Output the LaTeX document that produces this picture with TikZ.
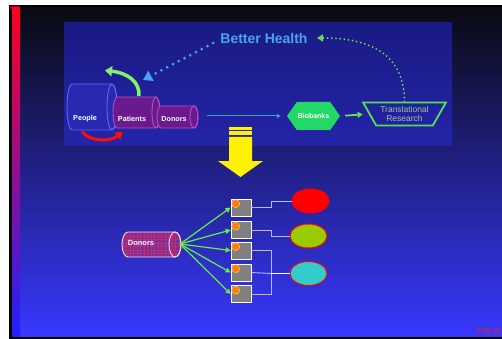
\documentclass[tikz,border=0pt]{standalone}
\usepackage{fontspec}
\setmainfont{Liberation Sans}
\newfontfamily\serifr{Liberation Serif}
\usetikzlibrary{shapes.geometric,shapes.symbols,arrows.meta,calc}
\definecolor{bgtop}{HTML}{0A0A12}
\definecolor{bgmid}{HTML}{2222B4}
\definecolor{bgbot}{HTML}{3838FF}
\definecolor{insettop}{HTML}{1A1A84}
\definecolor{insetbot}{HTML}{2424A8}
\definecolor{barred}{HTML}{FF0020}
\definecolor{barmid}{HTML}{C000A0}
\definecolor{barblue}{HTML}{2020FF}
\definecolor{skyblue}{HTML}{45A5EE}
\definecolor{dotgreen}{HTML}{66DD55}
\definecolor{hexgreen}{HTML}{22D866}
\definecolor{trapgreen}{HTML}{55E055}
\definecolor{traptext}{HTML}{A0C4A0}
\definecolor{tealline}{HTML}{30A8B0}
\definecolor{peoplefill}{HTML}{2828B0}
\definecolor{peopleline}{HTML}{6464FF}
\definecolor{purplefill}{HTML}{6A1A8C}
\definecolor{purpleline}{HTML}{B050C8}
\definecolor{donorfill}{HTML}{6434B4}
\definecolor{gridred}{HTML}{D02858}
\definecolor{boxgray}{HTML}{808080}
\definecolor{lavline}{HTML}{B8B8FF}
\definecolor{olive}{HTML}{99CC00}
\definecolor{cyanfill}{HTML}{33CCCC}
\definecolor{lightgreen}{HTML}{66EE44}
\definecolor{ttrred}{HTML}{E02020}
\newcommand\hcyl[7]{% L R T B rx bodystyle endstyle
  \pgfmathsetmacro\cyy{(#3+#4)/2}\pgfmathsetmacro\ryy{(#4-#3)/2}
  \path[#6] (#2,#3) -- (#1,#3) arc[start angle=270,end angle=90,x radius=#5,y radius=\ryy]
     -- (#2,#4) arc[start angle=90,end angle=-90,x radius=#5,y radius=\ryy] -- cycle;
  \draw[#7] (#2,\cyy) ellipse[x radius=#5,y radius=\ryy];
}
\begin{document}
\begin{tikzpicture}[x=1pt,y=-1pt,
  lbl/.style={text=white,font=\bfseries\fontsize{7.2}{8}\selectfont,inner sep=0},
  bluedot/.style={skyblue,line width=3pt,line cap=round,dash pattern=on 0pt off 6.5pt,
     -{Triangle[length=9pt,width=11pt]}},
  greendot/.style={dotgreen,line width=2pt,line cap=round,dash pattern=on 0pt off 4.2pt,
     -{Triangle[length=6pt,width=7pt]}},
  boxnode/.style={rectangle,minimum width=20pt,minimum height=17pt,fill=boxgray,draw=white,line width=0.7pt,inner sep=0},
  dotnode/.style={circle,fill=orange,draw=orange!50!white,line width=0.5pt,minimum size=8pt,inner sep=0},
  garrow/.style={lightgreen,line width=1.2pt,-{Triangle[length=5pt,width=5pt]}},
  lav/.style={lavline,line width=0.9pt},
  ell/.style={ellipse,minimum width=37pt,minimum height=24pt,inner sep=0,line width=1pt},
  redgrid/.style={path picture={
     \foreach \gx in {116,119.5,...,186}{\draw[gridred,line width=0.45pt] (\gx,226) -- (\gx,262);}
     \foreach \gy in {229,232.5,...,260}{\draw[gridred,line width=0.45pt] (112,\gy) -- (190,\gy);}}}]
\useasboundingbox (0,0) rectangle (502,339);
\fill[white] (0,0) rectangle (502,339);
\fill[black] (9,5) rectangle (502,339);
\shade[top color=bgtop,middle color=bgmid,bottom color=bgbot] (12,8) rectangle (502,336);
\fill[barred!60!black] (10,6) rectangle (20,9);
\shade[top color=barred,middle color=barmid,bottom color=barblue] (12,8) rectangle (20,336);
% inset
\shade[top color=insettop,bottom color=insetbot] (64,23) rectangle (452,145);
% text Better Health
\node[text=skyblue,font=\bfseries\fontsize{14}{16}\selectfont,inner sep=0] (better) at (264,38) {Better Health};
% cylinders
\hcyl{72}{112}{84}{130}{5}{fill=peoplefill,draw=peopleline,line width=0.9pt}{peopleline,line width=0.9pt}
\hcyl{117}{156}{97}{128}{4}{fill=purplefill,draw=purpleline,line width=0.9pt}{purpleline,line width=0.9pt}
\hcyl{161}{194}{106}{128}{4}{fill=purplefill,draw=purpleline,line width=0.9pt}{purpleline,line width=0.9pt}
\node[lbl] (people) at (85,119) {People};
\node[lbl] (patients) at (132,119) {Patients};
\node[lbl] (donA) at (174,119) {Donors};
\coordinate (cylend) at (198,116);
\coordinate (ptip) at (143,80);
\coordinate (gtip) at (317,38);
% arrows around people
\draw[red!90!orange,line width=3pt,-{Triangle[length=7pt,width=9pt]}]
  ($(people.south)+(-3,9)$) .. controls (90,142) and (110,142) .. ($(patients.south west)+(5,10)$);
\draw[lightgreen!80!white,line width=3.5pt,-{Triangle[length=7pt,width=10pt]}]
  ($(patients.north)+(7,-20)$) .. controls (140,82) and (128,73) .. ($(people.north)+(20,-45)$);
% dotted arrows
\draw[bluedot] ($(better.west)+(-7,5)$) -- (ptip);
% trapezium and hexagon
\node[signal,signal to=west and east,signal pointer angle=110,fill=hexgreen,minimum width=53pt,minimum height=28pt,inner sep=0,
  text=white,font=\bfseries\fontsize{7}{8}\selectfont] (bio) at (313.5,116) {Biobanks};
\node[trapezium,trapezium stretches=true,shape border rotate=180,trapezium left angle=54,trapezium right angle=54,
  draw=trapgreen,line width=1.8pt,minimum width=83pt,minimum height=23pt,inner sep=0,text=traptext,align=center,
  font=\fontsize{8.5}{9.2}\selectfont] (trap) at (404.5,114) {Translational\\Research};
\draw[greendot] (trap.north) .. controls (404,55) and (372,38) .. (gtip);
\draw[tealline,line width=1pt,shorten <=9pt,shorten >=6pt,-{Triangle[length=4pt,width=4pt]}] (cylend) -- (bio.west);
\draw[dotgreen,line width=1.8pt,shorten <=5pt,shorten >=6pt,-{Triangle[length=5pt,width=6pt]}] (bio.east) -- (trap.west);
% yellow arrow
\fill[yellow] (229,127.3) rectangle (252,129.6);
\fill[yellow] (229,131.4) rectangle (252,135.2);
\fill[yellow] (229,137) -- (252,137) -- (252,161) -- (263,161) -- (240.5,177) -- (218,161) -- (229,161) -- cycle;
% lower donors
\hcyl{128}{175}{232}{257}{6}{fill=donorfill,redgrid,draw=white!85!purple,line width=0.9pt}{white!85!purple,line width=0.9pt}
\node[lbl,text=white!90!pink,font=\bfseries\fontsize{7.5}{8}\selectfont] (donB) at (141,243) {Donors};
\coordinate (dsrc) at (180,244);
% boxes
\node[boxnode] (b1) at (241,207.5) {};
\node[boxnode] (b2) at (241,230) {};
\node[boxnode] (b3) at (241,250.5) {};
\node[boxnode] (b4) at (241,272.5) {};
\node[boxnode] (b5) at (241,294) {};
\foreach \b in {b1,b2,b3,b4,b5}{
  \node[dotnode] at ($(\b.north west)+(5,5)$) {};
  \draw[garrow] (dsrc) -- (\b.west);
}
% ellipses
\node[ell,fill=red,draw=red] (e1) at (310.5,201) {};
\node[ell,fill=olive,draw=red] (e2) at (308.5,236) {};
\node[ell,fill=cyanfill,draw=red] (e3) at (308.5,273.5) {};
\coordinate (j) at (271,273.5);
\draw[lav] (b1.east) -- ++(20,0) |- (e1.west);
\draw[lav] (b2.east) -- ++(20,0) |- (e2.west);
\draw[lav] (b3.east) -| (j);
\draw[lav] (b5.east) -| (j);
\draw[lav] (b4.east) -- (j);
\draw[white,line width=1.6pt] (j) -- (e3.west);
\node[text=ttrred,font=\serifr\bfseries\fontsize{7}{8}\selectfont,anchor=base east,inner sep=0] (ttr) at (500,333) {TTR 20};
\end{tikzpicture}
\end{document}
